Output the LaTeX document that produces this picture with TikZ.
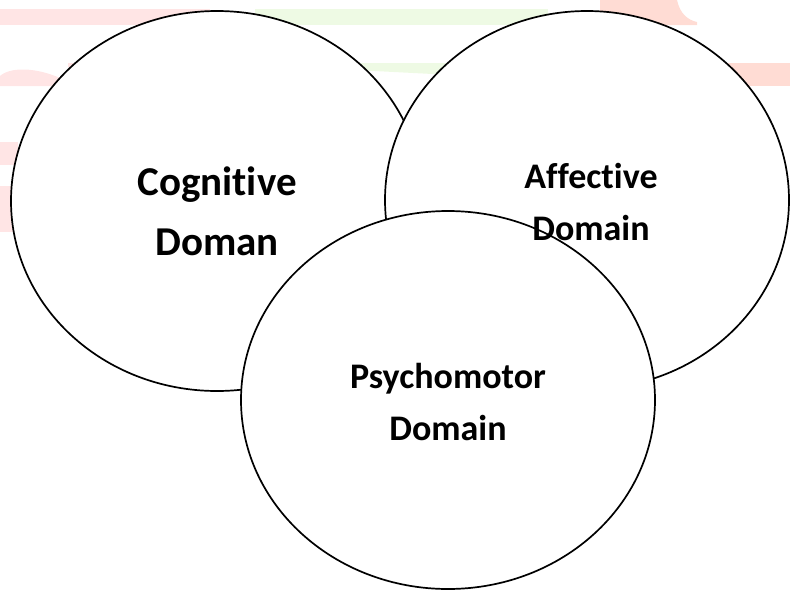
\documentclass[tikz,border=0pt]{standalone}
\usepackage{fontspec}
\setmainfont[Ligatures={NoCommon,NoContextual}]{Carlito}
\usetikzlibrary{shapes.geometric}
\definecolor{bgpink}{RGB}{255,229,229}
\definecolor{bggreen}{RGB}{238,250,228}
\definecolor{bgsalmon}{RGB}{255,220,212}
\begin{document}
\begin{tikzpicture}[x=1pt,y=-1pt,
  dom/.style={ellipse, draw=black, line width=1.7pt, fill=white, inner sep=0pt},
  lblbig/.style={font=\bfseries\fontsize{41}{49}\selectfont, anchor=base, inner sep=0pt},
  lblmid/.style={font=\bfseries\fontsize{36}{43}\selectfont, anchor=base, inner sep=0pt}]
\useasboundingbox (0,0) rectangle (790,590);
% faint background streaks
\fill[bgpink] (0,9) rectangle (210,25);
\fill[bggreen] (255,9) rectangle (548,25);
\fill[bgsalmon] (600,0) -- (677,0) .. controls (680,14) and (688,20) .. (697,22) -- (697,25) -- (600,25) -- cycle;
\fill[bgpink] (0,86) -- (0,76) .. controls (10,67) and (35,67) .. (60,78) -- (60,86) -- cycle;
\fill[bgpink] (68,63) rectangle (78,67);
\fill[bggreen] (355,63) -- (447,63) -- (452,75) -- (355,70) -- cycle;
\fill[bgsalmon] (700,63) rectangle (790,86);
\fill[bgpink] (0,142) rectangle (18,165);
\fill[bgpink] (0,186) rectangle (13,232);
% domains
\node[dom, minimum width=412pt, minimum height=380pt] (cog) at (217,201) {};
\node[dom, minimum width=404pt, minimum height=378pt] (aff) at (587,200) {};
\node[dom, minimum width=414pt, minimum height=378pt] (psy) at (448,400) {};
% labels
\node[lblbig] (cog1) at (217,195) {Cognitive};
\node[lblbig] (cog2) at (217,255) {Doman};
\node[lblmid] (aff1) at (591,188) {Affective};
\node[lblmid] (aff2) at (591,240) {Domain};
\node[lblmid] (psy1) at (448,388) {Psychomotor};
\node[lblmid] (psy2) at (448,440) {Domain};
\end{tikzpicture}
\end{document}
